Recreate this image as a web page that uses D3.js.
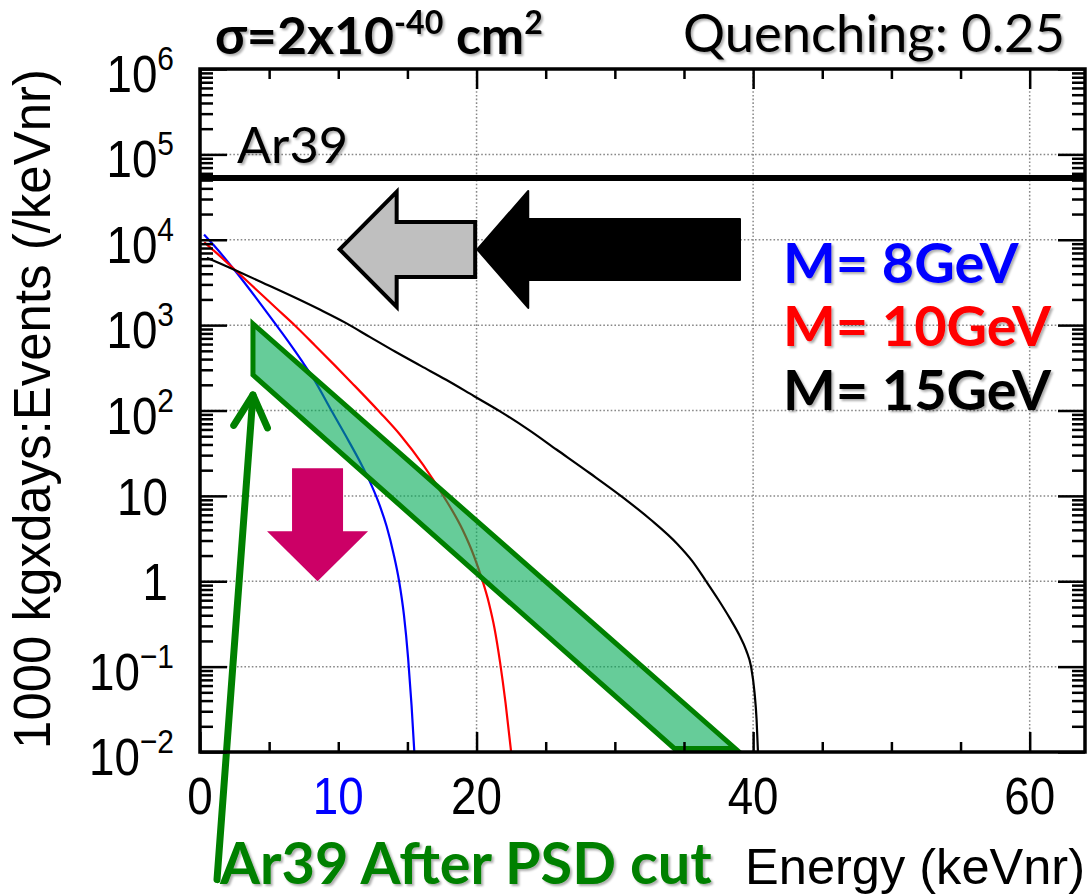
<!DOCTYPE html>
<html>
<head>
<meta charset="utf-8">
<script src="https://cdn.jsdelivr.net/npm/d3@7"></script>
<style>
  html, body { margin: 0; padding: 0; background: #fff; }
  svg { display: block; }
</style>
</head>
<body>
<svg id="chart" width="1092" height="896"></svg>
<script>
// ---- Recoil spectra (keVnr, events /keVnr per 1000 kg x days) ----
const energy8  = [0.3, 1, 2, 2.7, 4, 4.7, 6, 7.4, 8.2, 9.4, 10.5, 11.7, 12.3, 12.9, 13.5, 14.0, 14.4, 14.75, 15.05, 15.3, 15.5];
const rate8    = [11500, 8600, 5550, 4020, 2140, 1510, 783, 373, 238, 107, 51.9, 22.9, 14.5, 8.5, 4.37, 2.09, 1.0, 0.40, 0.126, 0.035, 0.010];

const energy10 = [0.3, 1, 2, 2.8, 4, 5.5, 6.9, 8.3, 9.8, 11, 13, 14.5, 16.15, 17.6, 19.0, 19.8, 20.4, 20.9, 21.3, 21.7, 22.1, 22.5];
const rate10   = [9330, 7450, 5330, 4050, 2670, 1585, 977, 582, 331, 209, 95.5, 51.3, 22.9, 10, 3.98, 2.0, 1.05, 0.55, 0.28, 0.112, 0.037, 0.010];

const energy15 = [0.5, 1.5, 2.8, 4.5, 6.9, 8.7, 10.5, 12.3, 14.1, 16, 17.8, 19.8, 21.7, 23.8, 25.8, 28.2, 30.6, 32.6, 34.5, 35.6, 36.6, 37.5, 38.3, 39.0, 39.5, 39.85, 40.1, 40.25, 40.35];
const rate15   = [6170, 5220, 4220, 3160, 2090, 1510, 1070, 724, 490, 331, 229, 148, 97.7, 58.9, 34.7, 18.4, 9.55, 5.25, 2.75, 1.72, 1.0, 0.603, 0.372, 0.234, 0.155, 0.100, 0.050, 0.024, 0.010];

const massLabels = ["M= 8GeV", "M= 10GeV", "M= 15GeV"];
const massColors = ["#0000ff", "#ff0000", "#000000"];

// Ar39 rate before pulse-shape discrimination
const ar39Level = 5.3e4;

// Ar39 after PSD cut: band edges
const bandUpperE    = [3.83, 38.7];
const bandUpperRate = [1035, 0.011];
const bandLowerE    = [3.83, 34.3];
const bandLowerRate = [261, 0.011];

// Axis ticks
const xMajorTicks = [0, 20, 40, 60];
const xMinorTicks = [5, 10, 15, 25, 30, 35, 45, 50, 55];
const yDecades    = [1e-2, 1e-1, 1, 10, 1e2, 1e3, 1e4, 1e5, 1e6];
const yTickBase   = ["10", "10", "1", "10", "10", "10", "10", "10", "10"];
const yTickSup    = ["\u22122", "\u22121", "", "", "2", "3", "4", "5", "6"];

// ---- Layout ----
const svg = d3.select("#chart");
const W = 1092, H = 896;
const plot = { left: 200, right: 1085, top: 69, bottom: 752 };

const x = d3.scaleLinear().domain([0, 64]).range([plot.left, plot.right]);
const y = d3.scaleLog().domain([1e-2, 1e6]).range([plot.bottom, plot.top]);

const rootFont = "'Liberation Sans', Arial, Helvetica, sans-serif";
const slideFont = "Lato, 'Open Sans', 'Noto Sans', sans-serif";

const defs = svg.append("defs");
defs.append("clipPath").attr("id", "plotClip")
  .append("rect")
  .attr("x", plot.left).attr("y", plot.top)
  .attr("width", plot.right - plot.left).attr("height", plot.bottom - plot.top);
const shadow = defs.append("filter").attr("id", "txtShadow")
  .attr("x", "-10%").attr("y", "-30%").attr("width", "125%").attr("height", "170%");
shadow.append("feDropShadow")
  .attr("dx", 2).attr("dy", 2).attr("stdDeviation", 1.2)
  .attr("flood-color", "#000").attr("flood-opacity", 0.32);

svg.append("rect").attr("width", W).attr("height", H).attr("fill", "#fff");

// ---- Grid (dotted) ----
const grid = svg.append("g").attr("stroke", "#888").attr("stroke-width", 1.5)
  .attr("stroke-dasharray", "1.6 2.1").attr("fill", "none");
grid.selectAll("line.gx").data(xMajorTicks.filter(d => d > 0)).join("line")
  .attr("x1", d => x(d)).attr("x2", d => x(d))
  .attr("y1", plot.top).attr("y2", plot.bottom);
grid.selectAll("line.gy").data(yDecades.slice(1, -1)).join("line")
  .attr("x1", plot.left).attr("x2", plot.right)
  .attr("y1", d => y(d)).attr("y2", d => y(d));

// ---- Spectra ----
const line = d3.line().x(d => x(d[0])).y(d => y(d[1])).curve(d3.curveMonotoneX);
const series = [
  { e: energy8,  r: rate8,  color: massColors[0] },
  { e: energy10, r: rate10, color: massColors[1] },
  { e: energy15, r: rate15, color: massColors[2] }
];
const curves = svg.append("g").attr("clip-path", "url(#plotClip)");
series.forEach(s => {
  curves.append("path")
    .attr("d", line(d3.zip(s.e, s.r)))
    .attr("fill", "none").attr("stroke", s.color).attr("stroke-width", 2.2)
    .attr("stroke-linejoin", "round");
});

// Ar39 level
curves.append("line")
  .attr("x1", x(0)).attr("x2", x(64))
  .attr("y1", y(ar39Level)).attr("y2", y(ar39Level))
  .attr("stroke", "#000").attr("stroke-width", 6);

// ---- Ar39 after PSD cut band ----
const bandPts = d3.zip(bandUpperE, bandUpperRate)
  .concat(d3.zip(bandLowerE, bandLowerRate).reverse());
svg.append("path")
  .attr("d", d3.line().x(d => x(d[0])).y(d => y(d[1]))(bandPts) + "Z")
  .attr("fill", "rgb(0,170,85)").attr("fill-opacity", 0.6)
  .attr("stroke", "#008000").attr("stroke-width", 5)
  .attr("stroke-linejoin", "miter");

// ---- Block arrows ----
function leftArrow(tipE, rate, tailE, headLen, headHalf, shaftHalf) {
  const tx = x(tipE), cy = y(rate), ex = x(tailE), hx = tx + headLen;
  return [[tx, cy], [hx, cy - headHalf], [hx, cy - shaftHalf], [ex, cy - shaftHalf],
          [ex, cy + shaftHalf], [hx, cy + shaftHalf], [hx, cy + headHalf]];
}
function downArrow(e, tipRate, length, headLen, headHalf, shaftHalf) {
  const cx = x(e), ty = y(tipRate), hy = ty - headLen, top = ty - length;
  return [[cx, ty], [cx - headHalf, hy], [cx - shaftHalf, hy], [cx - shaftHalf, top],
          [cx + shaftHalf, top], [cx + shaftHalf, hy], [cx + headHalf, hy]];
}
const poly = pts => "M" + pts.map(p => p.join(",")).join("L") + "Z";

// black arrow (drawn first, its tip meets the grey arrow's tail)
svg.append("path")
  .attr("d", poly(leftArrow(20.05, 7.7e3, 39.05, 51, 58.5, 30.5)))
  .attr("fill", "#000").attr("stroke", "#000").attr("stroke-width", 2)
  .attr("stroke-linejoin", "round");
svg.append("path")
  .attr("d", poly(leftArrow(10.1, 7.7e3, 19.9, 57, 57.5, 27.5)))
  .attr("fill", "#bfbfbf").attr("stroke", "#000").attr("stroke-width", 4)
  .attr("stroke-linejoin", "miter");

svg.append("path")
  .attr("d", poly(downArrow(8.5, 1, 113, 50, 50.5, 25.5)))
  .attr("fill", "#cc0066");

// ---- Green pointer arrow ----
(function () {
  const tail = [x(1.23), y(3.2e-4)], tip = [x(3.83), y(152)];
  const dx = tip[0] - tail[0], dy = tip[1] - tail[1], len = Math.hypot(dx, dy);
  const bx = -dx / len, by = -dy / len, L = 36, th = 28 * Math.PI / 180;
  const wing = s => [tip[0] + L * (bx * Math.cos(s * th) - by * Math.sin(s * th)),
                     tip[1] + L * (bx * Math.sin(s * th) + by * Math.cos(s * th))];
  const g = svg.append("g").attr("stroke", "#008000").attr("stroke-width", 7)
    .attr("stroke-linecap", "round").attr("stroke-linejoin", "round").attr("fill", "none");
  g.append("line").attr("x1", tail[0]).attr("y1", tail[1]).attr("x2", tip[0]).attr("y2", tip[1]);
  g.append("path").attr("d", "M" + wing(1).join(",") + "L" + tip.join(",") + "L" + wing(-1).join(","));
})();

// ---- Frame and ticks ----
const axes = svg.append("g");
function styleAxis(g, w) {
  g.select(".domain").remove();
  g.selectAll(".tick line").attr("stroke", "#000").attr("stroke-width", w);
  g.selectAll(".tick text").remove();
}
axes.append("g").attr("transform", `translate(0,${plot.bottom})`)
  .call(d3.axisBottom(x).tickValues(xMajorTicks).tickSize(-20)).call(styleAxis, 2.5);
axes.append("g").attr("transform", `translate(0,${plot.bottom})`)
  .call(d3.axisBottom(x).tickValues(xMinorTicks).tickSize(-10)).call(styleAxis, 2.5);
axes.append("g").attr("transform", `translate(0,${plot.top})`)
  .call(d3.axisTop(x).tickValues(xMajorTicks).tickSize(-20)).call(styleAxis, 2.5);
axes.append("g").attr("transform", `translate(0,${plot.top})`)
  .call(d3.axisTop(x).tickValues(xMinorTicks).tickSize(-10)).call(styleAxis, 2.5);

const yMinor = [];
yDecades.slice(0, -1).forEach(d => { for (let k = 2; k <= 9; k++) yMinor.push(d * k); });
axes.append("g").attr("transform", `translate(${plot.left},0)`)
  .call(d3.axisLeft(y).tickValues(yDecades).tickSize(-27)).call(styleAxis, 2.5);
axes.append("g").attr("transform", `translate(${plot.left},0)`)
  .call(d3.axisLeft(y).tickValues(yMinor).tickSize(-13)).call(styleAxis, 2.5);
axes.append("g").attr("transform", `translate(${plot.right},0)`)
  .call(d3.axisRight(y).tickValues(yDecades).tickSize(-27)).call(styleAxis, 2.5);
axes.append("g").attr("transform", `translate(${plot.right},0)`)
  .call(d3.axisRight(y).tickValues(yMinor).tickSize(-13)).call(styleAxis, 2.5);

axes.append("rect")
  .attr("x", plot.left).attr("y", plot.top)
  .attr("width", plot.right - plot.left).attr("height", plot.bottom - plot.top)
  .attr("fill", "none").attr("stroke", "#000").attr("stroke-width", 3.5);

// ---- Tick labels ----
const tickSize = 52, supSize = 34, squeeze = 0.88;
yDecades.forEach((d, i) => {
  const hasSup = yTickSup[i] !== "";
  const g = svg.append("g")
    .attr("transform", `translate(${hasSup ? 174 : 168},${y(d) + (hasSup ? 23 : 19)}) scale(${squeeze},1)`);
  const t = g.append("text").attr("text-anchor", "end")
    .attr("font-family", rootFont).attr("font-size", tickSize).attr("fill", "#000");
  t.append("tspan").text(yTickBase[i]);
  if (hasSup) t.append("tspan").attr("font-size", supSize).attr("dy", -22).text(yTickSup[i]);
});
xMajorTicks.forEach(d => {
  svg.append("g").attr("transform", `translate(${x(d)},814) scale(${squeeze},1)`)
    .append("text").attr("text-anchor", "middle")
    .attr("font-family", rootFont).attr("font-size", tickSize).attr("fill", "#000")
    .text(d);
});
// hand-added 10 keV marker label
svg.append("g").attr("transform", `translate(${x(10)},814) scale(${squeeze},1)`)
  .append("text").attr("text-anchor", "middle")
  .attr("font-family", rootFont).attr("font-size", tickSize).attr("fill", "#0000ff")
  .text("10");

// ---- Text helpers ----
function richText(parent, parts, opt) {
  const t = parent.append("text")
    .attr("x", opt.x).attr("y", opt.y)
    .attr("text-anchor", opt.anchor || "start")
    .attr("font-family", opt.font).attr("font-weight", opt.weight || "normal")
    .attr("fill", opt.fill || "#000");
  if (opt.shadow) t.attr("filter", "url(#txtShadow)");
  const build = size => {
    t.selectAll("tspan").remove();
    let off = 0;
    parts.forEach(p => {
      const target = p.sup ? -size * 0.38 : 0;
      t.append("tspan").text(p.t)
        .attr("font-size", p.sup ? size * 0.62 : size)
        .attr("dy", target - off);
      off = target;
    });
  };
  build(opt.size);
  if (opt.width) {
    const w = t.node().getComputedTextLength();
    build(opt.size * opt.width / w);
  }
  return t;
}

// axis titles
const yTitle = svg.append("text")
  .attr("transform", `translate(50,409) rotate(-90)`)
  .attr("text-anchor", "middle").attr("font-family", rootFont)
  .attr("font-size", 50).attr("fill", "#000")
  .text("1000 kgxdays:Events (/keVnr)");
yTitle.attr("font-size", 50 * 680 / yTitle.node().getComputedTextLength());

richText(svg, [{ t: "Energy (keVnr)" }],
  { x: 1085, y: 884, anchor: "end", font: rootFont, size: 48, width: 340 });

// slide annotations
richText(svg, [{ t: "\u03c3=2x10" }, { t: "-40", sup: true }, { t: " cm" }, { t: "2", sup: true }],
  { x: 215, y: 54, font: slideFont, weight: "bold", size: 42, width: 328, shadow: true });
richText(svg, [{ t: "Quenching: 0.25" }],
  { x: 1065, y: 52, anchor: "end", font: slideFont, size: 48, width: 382, shadow: true });
richText(svg, [{ t: "Ar39" }],
  { x: 237, y: 163, font: slideFont, size: 46, width: 111, shadow: true });

// legend, sized from the widest entry
const probe = richText(svg, [{ t: massLabels[1] }],
  { x: 0, y: -100, font: slideFont, weight: "bold", size: 44, width: 268 });
const legendSize = parseFloat(probe.select("tspan").attr("font-size"));
probe.remove();
const legendBase = [283, 346, 410];
massLabels.forEach((m, i) => {
  richText(svg, [{ t: m }],
    { x: 783, y: legendBase[i], font: slideFont, weight: "bold",
      size: legendSize, fill: massColors[i], shadow: true });
});

richText(svg, [{ t: "Ar39 After PSD cut" }],
  { x: 220, y: 884, font: slideFont, weight: "bold", size: 50, width: 492,
    fill: "#008000", shadow: true });
</script>
</body>
</html>
